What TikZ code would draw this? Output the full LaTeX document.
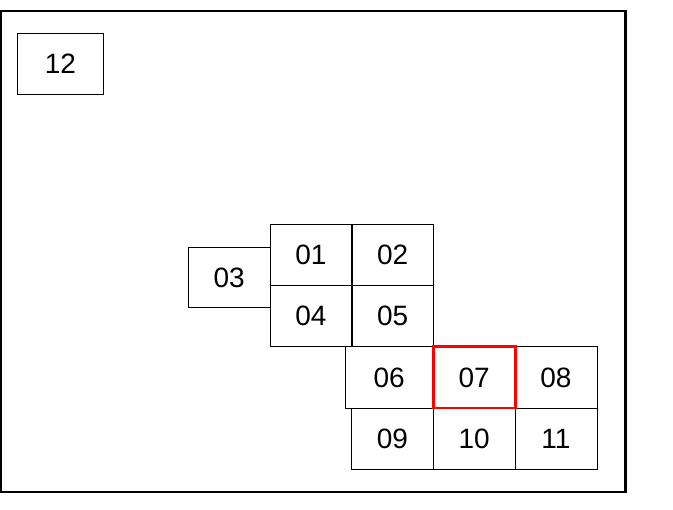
\documentclass[tikz,border=0pt]{standalone}
\usepackage{fontspec}
\setmainfont{Liberation Sans}
\usepackage{tikz}
\usetikzlibrary{positioning}

\begin{document}
\begin{tikzpicture}[x=1pt,y=-1pt,
    cell/.style={draw,line width=0.8pt,inner sep=0pt,minimum width=82pt,minimum height=61.4pt,font=\fontsize{28}{28}\selectfont},
    picked/.style={draw=red,line width=2.8pt}]
    \useasboundingbox (0,0) rectangle (673,510);
    % the frame
    \draw[line width=2.4pt] (1,11) rectangle (625.5,492);

    \node (c12) at (60.5,63.8) [cell,minimum width=86pt]{12};

    \node (c03) at (229.2,277.5) [cell,minimum width=81.7pt,minimum height=60.4pt]{03};
    \node (c01) at (311,255) [cell]{01};
    \node (c02) at (392.7,255) [cell]{02};
    \node (c04) at (311,316.2) [cell]{04};
    \node (c05) at (392.7,316.2) [cell]{05};

    \node (c06) at (389.2,377.4) [cell,minimum width=88.3pt]{06};
    \node (c08) at (556,377.4) [cell]{08};
    \node (c09) at (392.4,438.7) [cell,minimum width=81.4pt]{09};
    \node (c10) at (474.2,438.7) [cell]{10};
    \node (c11) at (556,438.7) [cell]{11};
    \node (c07) at (474.2,377.4) [cell,picked]{07};
\end{tikzpicture}
\end{document}
